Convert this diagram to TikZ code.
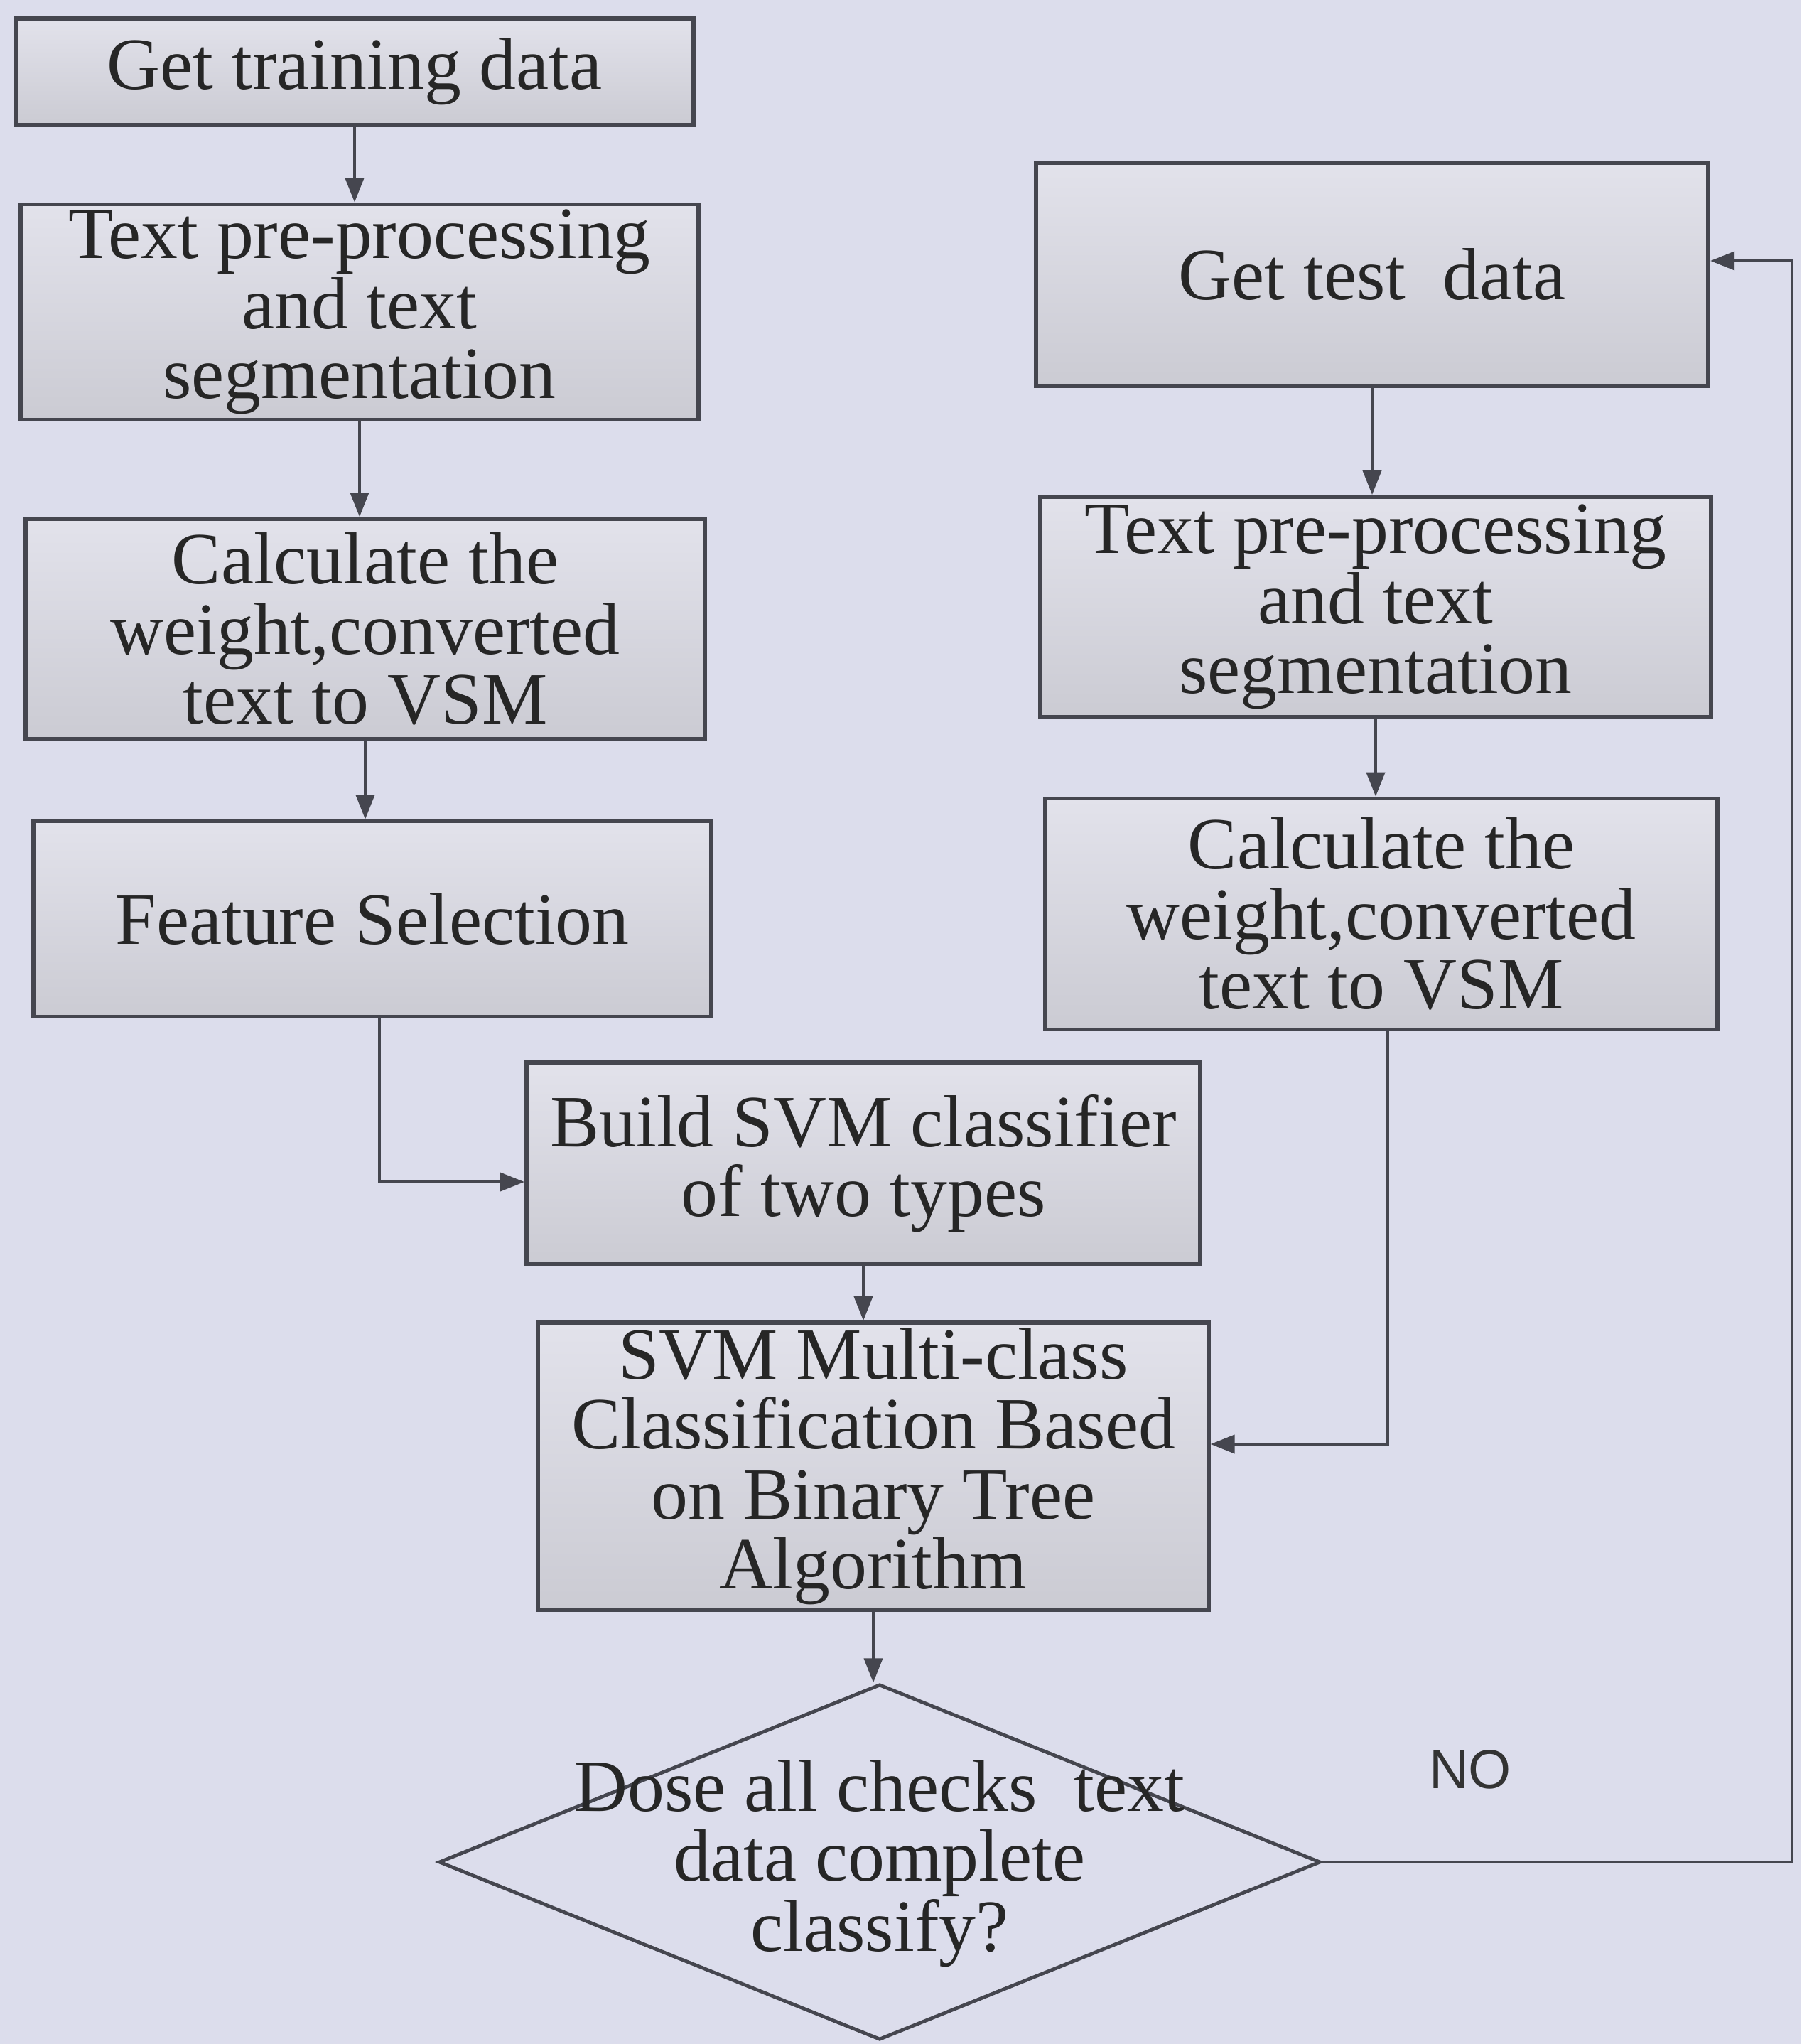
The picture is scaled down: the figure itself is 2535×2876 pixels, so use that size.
\documentclass[tikz,border=0pt]{standalone}
\usepackage{fontspec}
\setmainfont{Liberation Serif}
\newfontfamily\labelsans{Liberation Sans}
\usetikzlibrary{arrows.meta,shapes.geometric}

\definecolor{paper}{HTML}{DCDDEC}
\definecolor{ink}{HTML}{45464F}
\definecolor{boxtop}{HTML}{E2E2EB}
\definecolor{boxbot}{HTML}{CBCBD3}

\tikzset{
  boxfont/.style={font=\fontsize{29.5}{28}\selectfont},
  procbox/.style={draw=ink, line width=1.6pt, top color=boxtop, bottom color=boxbot,
    inner sep=0pt, align=center, text=black!85, boxfont},
  decision/.style={diamond, draw=ink, line width=1.4pt, inner sep=0pt},
  decisiontext/.style={align=center, text=black!85, inner sep=0pt, boxfont},
  flow/.style={draw=ink, line width=1.1pt, -{Triangle[length=0.34cm,width=0.26cm]}},
  nolabel/.style={font=\labelsans\fontsize{22}{24}\selectfont, text=black!80}
}

\begin{document}
\begin{tikzpicture}[x=0.01cm, y=-0.01cm]
  % page
  \fill[paper] (0,0) rectangle (2535,2876);
  \useasboundingbox (0,0) rectangle (2535,2876);

  % training branch
  \node[procbox, minimum width=9.54cm, minimum height=1.50cm] (train) at (499,101)
    {Get training data};
  \node[procbox, minimum width=9.54cm, minimum height=3.03cm] (pre1) at (506,439)
    {Text pre-processing\\ and text\\ segmentation};
  \node[procbox, minimum width=9.55cm, minimum height=3.10cm] (calc1) at (514,885)
    {Calculate the\\ weight,converted\\ text to VSM};
  \node[procbox, minimum width=9.53cm, minimum height=2.75cm] (feat) at (524,1293)
    {Feature Selection};

  % test branch
  \node[procbox, minimum width=9.46cm, minimum height=3.14cm] (test) at (1931,386)
    {Get test\enspace data};
  \node[procbox, minimum width=9.44cm, minimum height=3.10cm] (pre2) at (1936,854)
    {Text pre-processing\\ and text\\ segmentation};
  \node[procbox, minimum width=9.46cm, minimum height=3.25cm] (calc2) at (1944,1286)
    {Calculate the\\ weight,converted\\ text to VSM};

  % classifier
  \node[procbox, minimum width=9.48cm, minimum height=2.84cm] (build) at (1215,1637)
    {Build SVM classifier\\ of two types};
  \node[procbox, minimum width=9.43cm, minimum height=4.04cm] (multi) at (1229,2063)
    {SVM Multi-class\\ Classification Based\\ on Binary Tree\\ Algorithm};

  % decision
  \node[decision, minimum width=12.40cm, minimum height=5.00cm] (check) at (1238,2620) {};
  \node[decisiontext] (checktext) at (1238,2622)
    {Dose all checks\enspace text\\ data complete\\ classify?};

  % connectors
  \draw[flow] (train.south) -- (train.south |- pre1.north);
  \draw[flow] (pre1.south) -- (pre1.south |- calc1.north);
  \draw[flow] (calc1.south) -- (calc1.south |- feat.north);
  \draw[flow] ([xshift=0.1cm]feat.south) |- ([yshift=-0.26cm]build.west);

  \draw[flow] (test.south) -- (test.south |- pre2.north);
  \draw[flow] (pre2.south) -- (pre2.south |- calc2.north);
  \draw[flow] ([xshift=0.09cm]calc2.south) |- ([yshift=0.31cm]multi.east);

  \draw[flow] (build.south) -- (build.south |- multi.north);
  \draw[flow] (multi.south) -- (multi.south |- check.north);

  % loop back for unclassified data
  \coordinate (back) at (2522,367);
  \draw[flow] (check.east) -| (back) -- (test.east |- back);
  \node[nolabel] (no) at (2069,2490) {NO};
\end{tikzpicture}
\end{document}
